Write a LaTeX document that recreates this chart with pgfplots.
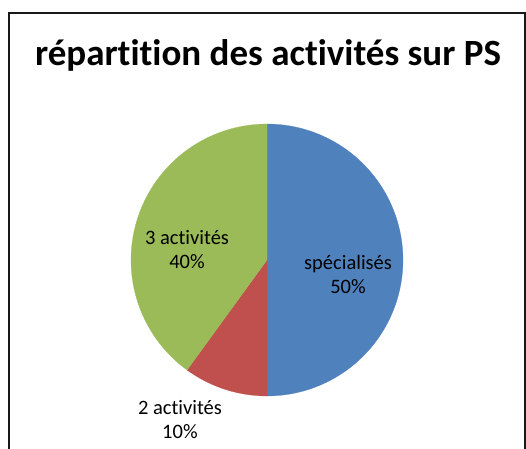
\documentclass[border=0pt]{standalone}
\usepackage{pgfplots}
\pgfplotsset{compat=1.18}
\usepackage{fontspec}
\setmainfont{Carlito}[Ligatures=NoCommon]
\definecolor{pieblue}{HTML}{4F81BD}
\definecolor{piered}{HTML}{C0504D}
\definecolor{piegreen}{HTML}{9BBB59}
% values (percent)
\newcommand\vSpec{50}
\newcommand\vDeux{10}
\newcommand\vTrois{40}
\begin{document}
\begin{tikzpicture}[x=1pt,y=1pt]
\useasboundingbox (0,0) rectangle (526,448);
\draw[line width=2pt, color=black!90] (9,-20) -- (9,435) -- (525,435) -- (525,-20);
\node[anchor=base, inner sep=0pt, font=\fontsize{37}{44}\selectfont\bfseries] at (268,382) {répartition des activités sur PS};
\pgfmathsetmacro\aA{90}
\pgfmathsetmacro\aB{\aA-3.6*\vSpec}
\pgfmathsetmacro\aC{\aB-3.6*\vDeux}
\pgfmathsetmacro\aD{\aC-3.6*\vTrois}
\begin{axis}[at={(267pt,188pt)}, anchor=origin, x=136pt, y=136pt,
  xmin=-1, xmax=1, ymin=-1, ymax=1, hide axis, clip=false, enlargelimits=false]
\addplot[fill=pieblue, draw=pieblue, line width=0.2pt, domain=\aB:\aA, samples=120, variable=\t] ({cos(\t)},{sin(\t)}) -- (axis cs:0,0) -- cycle;
\addplot[fill=piered, draw=piered, line width=0.2pt, domain=\aC:\aB, samples=40, variable=\t] ({cos(\t)},{sin(\t)}) -- (axis cs:0,0) -- cycle;
\addplot[fill=piegreen, draw=piegreen, line width=0.2pt, domain=\aD:\aC, samples=100, variable=\t] ({cos(\t)},{sin(\t)}) -- (axis cs:0,0) -- cycle;
\node[align=center, font=\fontsize{20.5}{24}\selectfont] at (axis cs:0.596,-0.103) {spécialisés\\50\%};
\node[align=center, font=\fontsize{20.5}{24}\selectfont] at (axis cs:-0.588,0.074) {3 activités\\40\%};
\node[align=center, font=\fontsize{20.5}{24}\selectfont] at (axis cs:-0.64,-1.176) {2 activités\\10\%};
\end{axis}
\end{tikzpicture}
\end{document}
